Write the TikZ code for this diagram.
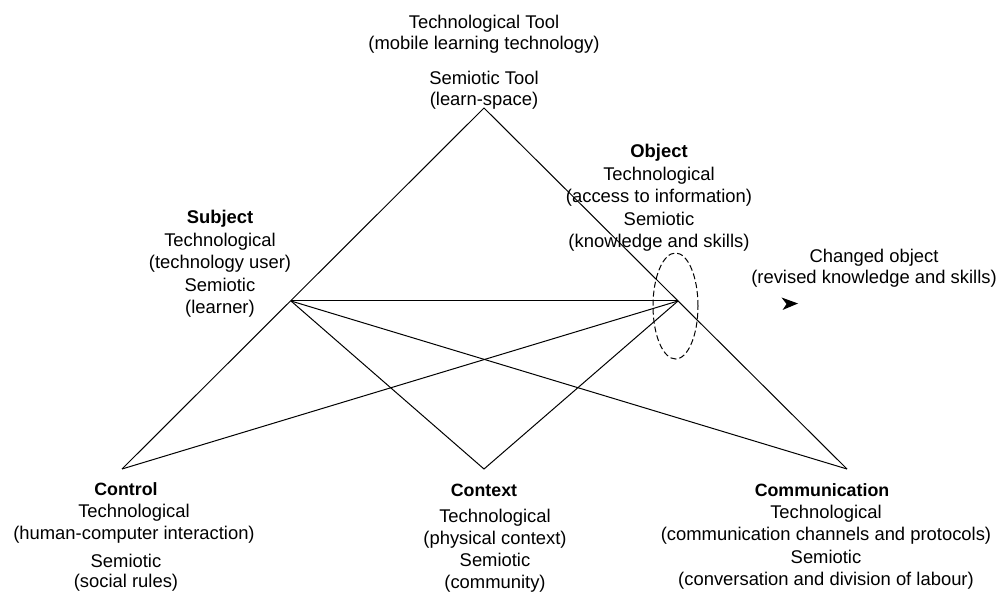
\documentclass[tikz,border=0pt]{standalone}
\usepackage{fontspec}
\setmainfont{Liberation Sans}
\begin{document}
\begin{tikzpicture}[x=1pt,y=-1pt,
  txt/.style={align=center, inner sep=0pt, font=\fontsize{18.4}{22.5}\selectfont},
  hd/.style={align=center, inner sep=0pt, font=\fontsize{17.8}{21.7}\selectfont\bfseries},
  edge/.style={line width=1pt, line join=miter},
  ring/.style={line width=1pt, dash pattern=on 6pt off 3pt}]
\useasboundingbox[fill=white] (0,0) rectangle (999,593);
% vertices
\coordinate (T) at (484,108);
\coordinate (S) at (291,301);
\coordinate (O) at (678,301);
\coordinate (Ctl) at (122,469);
\coordinate (Ctx) at (484,469);
\coordinate (Com) at (847,469);
% connectors
\draw[edge] (Ctl) -- (T) -- (Com);
\draw[edge] (S) -- (O);
\draw[edge] (S) -- (Ctx) -- (O);
\draw[edge] (O) -- (Ctl);
\draw[edge] (S) -- (Com);
% dashed ellipse around object
\draw[ring] (675.5,306) ellipse [x radius=22.5pt, y radius=53pt];
% arrowhead
\fill (781.5,297.5) -- (798,303.5) -- (782.5,310) -- (786.5,304) -- cycle;
% texts
\node[txt, font=\fontsize{18.4}{20.5}\selectfont] (ttool) at (484,34) {Technological Tool\\(mobile learning technology)};
\node[txt, font=\fontsize{18.4}{20.5}\selectfont] (stool) at (484,90) {Semiotic Tool\\(learn-space)};
\node[txt, font=\fontsize{18.4}{22.5}\selectfont] (obj) at (659,198) {\textbf{Object}\\Technological\\(access to information)\\Semiotic\\(knowledge and skills)};
\node[txt, font=\fontsize{18.4}{21}\selectfont] (chg) at (874,268) {Changed object\\(revised knowledge and skills)};
\node[txt, font=\fontsize{18.4}{22.5}\selectfont] (subj) at (220,264) {\textbf{Subject}\\Technological\\(technology user)\\Semiotic\\(learner)};
\node[hd] (ctlh) at (126,489) {Control};
\node[txt, font=\fontsize{18.4}{22}\selectfont] (ctlt) at (134,524) {Technological\\(human-computer interaction)};
\node[txt, font=\fontsize{18.4}{20.5}\selectfont] (ctls) at (126,572.5) {Semiotic\\(social rules)};
\node[hd] (ctxh) at (484,490) {Context};
\node[txt, font=\fontsize{18.4}{22}\selectfont] (ctxt) at (495,550.5) {Technological\\(physical context)\\Semiotic\\(community)};
\node[hd] (comh) at (822,490) {Communication};
\node[txt, font=\fontsize{18.4}{22.5}\selectfont] (comt) at (826,547) {Technological\\(communication channels and protocols)\\Semiotic\\(conversation and division of labour)};
\end{tikzpicture}
\end{document}
